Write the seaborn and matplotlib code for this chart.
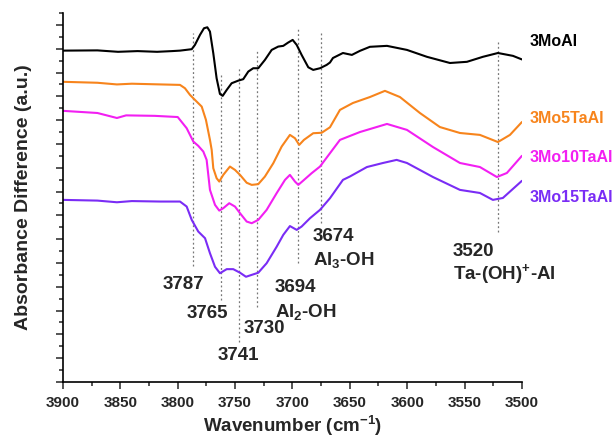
import numpy as np
import pandas as pd
import seaborn as sns
import matplotlib.pyplot as plt
from matplotlib.ticker import MultipleLocator, NullFormatter

# Spectra (wavenumber in cm-1, offset absorbance in a.u.)
wn_mo = [3900, 3870, 3852, 3835, 3818, 3805, 3798.0, 3787.8, 3785.0, 3780.6, 3777.1, 3774.2,
         3771.9, 3769.0, 3766.1, 3763.2, 3760.8, 3757.3, 3753.0, 3747.2, 3742.9, 3738.5,
         3734.2, 3729.8, 3724.0, 3718.1, 3712.4, 3708.0, 3703.7, 3699.8, 3696.3, 3692.0,
         3686.2, 3681.9, 3676.0, 3670.2, 3667.3, 3664.7, 3656.0, 3648.2, 3641.2, 3632.5,
         3617.6, 3600.2, 3582.8, 3562.7, 3547.9, 3534.0, 3520.9, 3507.8, 3500]
abs_mo = [13.92, 13.93, 13.87, 13.90, 13.87, 13.90, 13.92, 13.98, 14.16, 14.58, 14.86, 14.90,
          14.72, 13.81, 12.76, 12.10, 12.02, 12.27, 12.55, 12.66, 12.72, 13.04, 13.18, 13.18,
          13.53, 13.95, 14.09, 14.12, 14.26, 14.37, 14.16, 13.74, 13.22, 13.11, 13.18, 13.32,
          13.42, 13.61, 13.82, 13.74, 13.91, 14.08, 14.12, 13.95, 13.66, 13.40, 13.45, 13.66,
          13.82, 13.70, 13.55]

wn_ta5 = [3900, 3870, 3853, 3840, 3815, 3798.0, 3793.7, 3789.3, 3785.0, 3779.1, 3775.4,
          3771.9, 3770.4, 3769.0, 3766.1, 3763.8, 3760.3, 3754.5, 3750.1, 3745.7, 3739.9,
          3735.5, 3729.8, 3724.0, 3716.7, 3709.4, 3702.2, 3697.8, 3694.1, 3690.0, 3681.9,
          3674.5, 3667.3, 3658.6, 3647.3, 3632.5, 3619.4, 3606.3, 3588.9, 3571.5, 3554.0,
          3536.6, 3520.9, 3510.4, 3500]
abs_ta5 = [12.61, 12.57, 12.50, 12.53, 12.50, 12.48, 12.34, 12.06, 11.85, 11.57, 11.01,
           10.17, 9.75, 8.98, 8.56, 8.42, 8.70, 9.05, 8.91, 8.70, 8.37, 8.28, 8.31, 8.63, 9.19,
           9.89, 10.38, 10.24, 9.96, 10.17, 10.45, 10.47, 10.70, 11.43, 11.72, 11.97, 12.23,
           11.97, 11.30, 10.71, 10.46, 10.38, 10.08, 10.38, 10.92]

wn_ta10 = [3900, 3870, 3853, 3845, 3820, 3800, 3798.0, 3792.2, 3786.4, 3782.1, 3777.7,
           3774.8, 3771.9, 3767.5, 3763.8, 3760.3, 3755.1, 3750.1, 3745.7, 3739.9, 3735.5,
           3729.8, 3722.5, 3713.8, 3706.5, 3702.2, 3697.8, 3694.9, 3690.6, 3683.3, 3676.0,
           3667.3, 3658.6, 3641.2, 3617.6, 3600.2, 3577.5, 3554.0, 3536.6, 3521.8, 3513.1,
           3500]
abs_ta10 = [11.39, 11.30, 11.09, 11.20, 11.18, 11.13, 11.01, 10.66, 10.10, 9.92, 9.68, 9.33,
            8.07, 7.44, 7.20, 7.30, 7.51, 7.37, 7.09, 6.74, 6.67, 6.81, 7.23, 7.93, 8.49, 8.70,
            8.42, 8.28, 8.46, 8.77, 9.05, 9.61, 10.17, 10.50, 10.84, 10.59, 9.87, 9.20, 9.03,
            8.61, 8.78, 9.50]

wn_ta15 = [3900, 3870, 3853, 3840, 3815, 3798.0, 3792.2, 3787.8, 3782.1, 3776.2, 3771.9,
           3767.5, 3763.2, 3757.3, 3751.6, 3745.7, 3740.5, 3735.5, 3729.8, 3722.5, 3713.8,
           3708.0, 3702.2, 3696.3, 3692.0, 3684.7, 3676.0, 3667.3, 3656.0, 3650.0, 3635.1,
           3621.1, 3609.2, 3600.2, 3577.5, 3554.0, 3536.6, 3525.3, 3516.6, 3500]
abs_ta15 = [7.65, 7.62, 7.55, 7.60, 7.58, 7.58, 7.37, 6.81, 6.32, 6.04, 5.41, 4.84, 4.57,
            4.74, 4.74, 4.59, 4.42, 4.50, 4.59, 4.99, 5.68, 6.18, 6.55, 6.39, 6.53, 6.88, 7.23,
            7.72, 8.49, 8.63, 9.03, 9.20, 9.33, 9.20, 8.61, 8.07, 7.94, 7.65, 7.73, 8.45]

samples = ['3MoAl', '3Mo5TaAl', '3Mo10TaAl', '3Mo15TaAl']
colors = ['#000000', '#f7841c', '#f21ff2', '#7a2cf5']
label_y = [14.29, 11.05, 9.41, 7.77]

xtick_vals = [3900, 3850, 3800, 3750, 3700, 3650, 3600, 3550, 3500]
xtick_labels = ['3900', '3850', '3800', '3750', '3700', '3650', '3600', '3550', '3500']

# dotted marker lines: position, top, bottom
peak_pos = [3787, 3762, 3747, 3731, 3695, 3675, 3521]
peak_top = [14.66, 12.98, 13.24, 13.95, 14.87, 14.66, 14.29]
peak_bot = [4.87, 3.45, 1.68, 3.15, 5.00, 6.68, 6.30]

# peak annotations
peak_text = ['3787', '3765', '3730', '3741']
peak_text_x = [3795.4, 3774.5, 3724.8, 3747.5]
peak_text_y = [4.08, 2.86, 2.23, 1.13]
assign_text = ['3694', 'Al$_2$-OH', '3674', 'Al$_3$-OH', '3520', 'Ta-(OH)$^{+}$-Al']
assign_x = [3715.3, 3715.3, 3682.1, 3682.1, 3560.2, 3560.2]
assign_y = [3.99, 2.96, 6.13, 5.13, 5.50, 4.54]

frames = []
for name, w, a in zip(samples, [wn_mo, wn_ta5, wn_ta10, wn_ta15],
                      [abs_mo, abs_ta5, abs_ta10, abs_ta15]):
    frames.append(pd.DataFrame({'wavenumber': w, 'absorbance': a, 'sample': name}))
df = pd.concat(frames, ignore_index=True)

sns.set_style('ticks')
plt.rcParams['font.family'] = ['Liberation Sans', 'DejaVu Sans']
plt.rcParams['font.weight'] = 'bold'
plt.rcParams['mathtext.fontset'] = 'custom'
plt.rcParams['mathtext.rm'] = 'Liberation Sans:bold'
plt.rcParams['mathtext.it'] = 'Liberation Sans:bold'
plt.rcParams['mathtext.bf'] = 'Liberation Sans:bold'
plt.rcParams['mathtext.default'] = 'rm'

fig = plt.figure(figsize=(6.14, 4.41), dpi=100)
ax = fig.add_axes([0.1026, 0.1338, 0.7474, 0.8367])

sns.lineplot(data=df, x='wavenumber', y='absorbance', hue='sample', palette=colors,
             hue_order=samples, sort=False, estimator=None, linewidth=1.5,
             legend=False, ax=ax, solid_joinstyle='round', solid_capstyle='round')

ax.vlines(peak_pos, peak_bot, peak_top, colors='#777777', linestyles=(0, (1.5, 2)),
          linewidth=0.9, zorder=0)

for t, x, y in zip(peak_text, peak_text_x, peak_text_y):
    ax.text(x, y, t, ha='center', va='center', fontsize=13.5, fontweight='bold')
for t, x, y in zip(assign_text, assign_x, assign_y):
    ax.text(x, y, t, ha='left', va='center', fontsize=13.5, fontweight='bold')

for name, c, y in zip(samples, colors, label_y):
    ax.text(3493, y, name, color=c, ha='left', va='center', fontsize=11.5,
            fontweight='bold', clip_on=False)

ax.set_xlim(3900, 3500)
ax.set_ylim(0, 15.5)
ax.set_xticks(xtick_vals, labels=xtick_labels, fontweight='bold', fontsize=11)
ax.xaxis.set_minor_locator(MultipleLocator(25))
ax.yaxis.set_major_locator(MultipleLocator(1))
ax.yaxis.set_minor_locator(MultipleLocator(0.5))
ax.yaxis.set_major_formatter(NullFormatter())
ax.tick_params(axis='both', which='major', direction='out', length=5, width=1.1, pad=5)
ax.tick_params(axis='both', which='minor', direction='out', length=3, width=1.1)

sns.despine(ax=ax)
for side in ['left', 'bottom']:
    ax.spines[side].set_linewidth(1.2)
    ax.spines[side].set_color('black')

ax.set_xlabel('Wavenumber (cm$^{-1}$)', fontsize=13.5, fontweight='bold', labelpad=3)
ax.set_ylabel('Absorbance Difference (a.u.)', fontsize=14, fontweight='bold', labelpad=12)

fig.savefig('out.png', dpi=100)
